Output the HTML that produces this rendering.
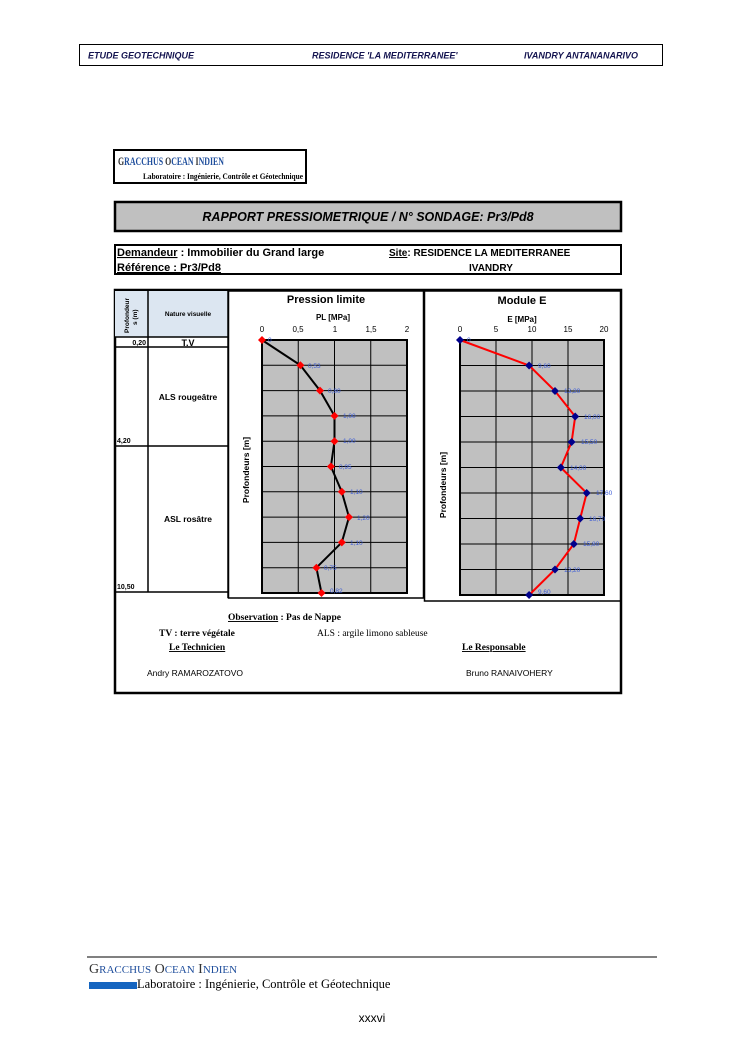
<!DOCTYPE html>
<html><head><meta charset="utf-8"><style>
html,body{margin:0;padding:0;background:#fff;}
svg{display:block;}
text{font-family:"Liberation Sans",sans-serif;}
.s,.s text,text.s{font-family:"Liberation Serif",serif;}
</style></head><body>
<svg width="744" height="1053" viewBox="0 0 744 1053" xmlns="http://www.w3.org/2000/svg">
<rect width="744" height="1053" fill="#fff"/>
<rect x="79.5" y="44.5" width="583" height="21" fill="none" stroke="#000" stroke-width="1"/>
<g font-size="9" font-style="italic" font-weight="bold" fill="#141450">
<text x="88" y="58.5">ETUDE GEOTECHNIQUE</text>
<text x="312" y="58.5">RESIDENCE 'LA MEDITERRANEE'</text>
<text x="524" y="58.5">IVANDRY ANTANANARIVO</text>
</g>
<rect x="114" y="150" width="192" height="33" fill="#fff" stroke="#000" stroke-width="2"/>
<text class="s" x="118" y="165" font-size="11.5" font-weight="bold" fill="#1f4e9c" textLength="106" lengthAdjust="spacingAndGlyphs"><tspan fill="#333">G</tspan>RACCHUS <tspan fill="#333">O</tspan>CEAN <tspan fill="#333">I</tspan>NDIEN</text>
<text class="s" x="143" y="179" font-size="8.5" font-weight="bold" fill="#000" textLength="160" lengthAdjust="spacingAndGlyphs">Laboratoire : Ingénierie, Contrôle et Géotechnique</text>
<rect x="115" y="202" width="506" height="29" fill="#c0c0c0" stroke="#000" stroke-width="2.5"/>
<text x="368" y="221" font-size="12.5" font-style="italic" font-weight="bold" text-anchor="middle">RAPPORT PRESSIOMETRIQUE / N° SONDAGE: Pr3/Pd8</text>
<rect x="115" y="245" width="506" height="29" fill="#fff" stroke="#000" stroke-width="2"/>
<g font-size="11" font-weight="bold">
<text x="117" y="256"><tspan text-decoration="underline">Demandeur</tspan> : Immobilier du Grand large</text>
<text x="117" y="271" text-decoration="underline">Référence : Pr3/Pd8</text>
</g>
<text x="389" y="256" font-size="10" font-weight="bold"><tspan text-decoration="underline">Site</tspan>: RESIDENCE LA MEDITERRANEE</text>
<text x="469" y="271" font-size="10" font-weight="bold">IVANDRY</text>
<rect x="115" y="290" width="506" height="403" fill="#fff" stroke="#000" stroke-width="2.5"/>
<rect x="115" y="291" width="113" height="46" fill="#dce6f1"/>
<g stroke="#000" stroke-width="1.5">
<line x1="148" y1="290" x2="148" y2="592"/>
<line x1="228" y1="290" x2="228" y2="598"/>
<line x1="115" y1="337" x2="228" y2="337"/>
<line x1="115" y1="347" x2="228" y2="347"/>
<line x1="115" y1="446" x2="228" y2="446"/>
<line x1="115" y1="592" x2="228" y2="592"/>
</g>
<text transform="translate(129,333) rotate(-90)" font-size="6.5" font-weight="bold">Profondeur</text>
<text transform="translate(137,325) rotate(-90)" font-size="6.5" font-weight="bold">s (m)</text>
<text x="188" y="316" font-size="6.5" font-weight="bold" text-anchor="middle">Nature visuelle</text>
<text x="146" y="345" font-size="7" font-weight="bold" text-anchor="end">0,20</text>
<text x="188" y="346" font-size="9" font-weight="bold" text-anchor="middle">T.V</text>
<text x="188" y="400" font-size="8.5" font-weight="bold" text-anchor="middle">ALS rougeâtre</text>
<text x="117" y="443" font-size="7" font-weight="bold">4,20</text>
<text x="188" y="522" font-size="8.5" font-weight="bold" text-anchor="middle">ASL rosâtre</text>
<text x="117" y="589" font-size="7" font-weight="bold">10,50</text>
<rect x="228.5" y="291" width="195" height="307" fill="#fff" stroke="#000" stroke-width="1.5"/>
<text x="326" y="303" font-size="11" font-weight="bold" text-anchor="middle">Pression limite</text>
<text x="333" y="320" font-size="8" font-weight="bold" text-anchor="middle">PL [MPa]</text>
<g font-size="8" text-anchor="middle">
<text x="262" y="332">0</text><text x="298" y="332">0,5</text><text x="335" y="332">1</text><text x="371" y="332">1,5</text><text x="407" y="332">2</text>
</g>
<text transform="translate(249,470) rotate(-90)" font-size="8.5" font-weight="bold" text-anchor="middle">Profondeurs [m]</text>
<rect x="262" y="340" width="145" height="253" fill="#c0c0c0"/>
<g stroke="#000" stroke-width="1">
<line x1="298.25" y1="340" x2="298.25" y2="593"/><line x1="334.5" y1="340" x2="334.5" y2="593"/><line x1="370.75" y1="340" x2="370.75" y2="593"/>
<line x1="262" y1="365.3" x2="407" y2="365.3"/><line x1="262" y1="390.6" x2="407" y2="390.6"/><line x1="262" y1="415.9" x2="407" y2="415.9"/><line x1="262" y1="441.2" x2="407" y2="441.2"/><line x1="262" y1="466.5" x2="407" y2="466.5"/><line x1="262" y1="491.8" x2="407" y2="491.8"/><line x1="262" y1="517.1" x2="407" y2="517.1"/><line x1="262" y1="542.4" x2="407" y2="542.4"/><line x1="262" y1="567.7" x2="407" y2="567.7"/>
</g>
<rect x="262" y="340" width="145" height="253" fill="none" stroke="#000" stroke-width="2"/>
<polyline fill="none" stroke="#000" stroke-width="2" points="262,340 300.4,365.3 320,390.6 334.5,415.9 334.5,441.2 330.9,466.5 341.8,491.8 349,517.1 341.8,542.4 316.4,567.7 321.5,593"/>
<g fill="#f00">
<path d="M262,336 l4,4 -4,4 -4,-4z"/><path d="M300.4,361.3 l4,4 -4,4 -4,-4z"/><path d="M320,386.6 l4,4 -4,4 -4,-4z"/><path d="M334.5,411.9 l4,4 -4,4 -4,-4z"/><path d="M334.5,437.2 l4,4 -4,4 -4,-4z"/><path d="M330.9,462.5 l4,4 -4,4 -4,-4z"/><path d="M341.8,487.8 l4,4 -4,4 -4,-4z"/><path d="M349,513.1 l4,4 -4,4 -4,-4z"/><path d="M341.8,538.4 l4,4 -4,4 -4,-4z"/><path d="M316.4,563.7 l4,4 -4,4 -4,-4z"/><path d="M321.5,589 l4,4 -4,4 -4,-4z"/>
</g>
<g font-size="6.5" fill="#3b5bd6">
<text x="268" y="342">0</text><text x="308" y="368">0,53</text><text x="328" y="393">0,80</text><text x="343" y="418">1,00</text><text x="343" y="443">1,00</text><text x="339" y="469">0,95</text><text x="350" y="494">1,10</text><text x="357" y="520">1,20</text><text x="350" y="545">1,10</text><text x="324" y="570">0,75</text><text x="330" y="593">0,82</text>
</g>
<rect x="424.5" y="291" width="196" height="310" fill="#fff" stroke="#000" stroke-width="1.5"/>
<text x="522" y="304" font-size="11" font-weight="bold" text-anchor="middle">Module E</text>
<text x="522" y="322" font-size="8" font-weight="bold" text-anchor="middle">E [MPa]</text>
<g font-size="8" text-anchor="middle">
<text x="460" y="332">0</text><text x="496" y="332">5</text><text x="532" y="332">10</text><text x="568" y="332">15</text><text x="604" y="332">20</text>
</g>
<text transform="translate(446,485) rotate(-90)" font-size="8.5" font-weight="bold" text-anchor="middle">Profondeurs [m]</text>
<rect x="460" y="340" width="144" height="255" fill="#c0c0c0"/>
<g stroke="#000" stroke-width="1">
<line x1="496" y1="340" x2="496" y2="595"/><line x1="532" y1="340" x2="532" y2="595"/><line x1="568" y1="340" x2="568" y2="595"/>
<line x1="460" y1="365.5" x2="604" y2="365.5"/><line x1="460" y1="391" x2="604" y2="391"/><line x1="460" y1="416.5" x2="604" y2="416.5"/><line x1="460" y1="442" x2="604" y2="442"/><line x1="460" y1="467.5" x2="604" y2="467.5"/><line x1="460" y1="493" x2="604" y2="493"/><line x1="460" y1="518.5" x2="604" y2="518.5"/><line x1="460" y1="544" x2="604" y2="544"/><line x1="460" y1="569.5" x2="604" y2="569.5"/>
</g>
<rect x="460" y="340" width="144" height="255" fill="none" stroke="#000" stroke-width="2"/>
<polyline fill="none" stroke="#f00" stroke-width="2" points="460,340 529.1,365.5 555,391 575.2,416.5 571.6,442 560.8,467.5 586.7,493 580.2,518.5 573.8,544 555,569.5 529.1,595"/>
<g fill="#00008b">
<path d="M460,336 l4,4 -4,4 -4,-4z"/><path d="M529.1,361.5 l4,4 -4,4 -4,-4z"/><path d="M555,387 l4,4 -4,4 -4,-4z"/><path d="M575.2,412.5 l4,4 -4,4 -4,-4z"/><path d="M571.6,438 l4,4 -4,4 -4,-4z"/><path d="M560.8,463.5 l4,4 -4,4 -4,-4z"/><path d="M586.7,489 l4,4 -4,4 -4,-4z"/><path d="M580.2,514.5 l4,4 -4,4 -4,-4z"/><path d="M573.8,540 l4,4 -4,4 -4,-4z"/><path d="M555,565.5 l4,4 -4,4 -4,-4z"/><path d="M529.1,591 l4,4 -4,4 -4,-4z"/>
</g>
<g font-size="6.5" fill="#3b5bd6">
<text x="467" y="342">0</text><text x="538" y="368">9,60</text><text x="564" y="393">13,20</text><text x="584" y="419">16,00</text><text x="581" y="444">15,50</text><text x="570" y="470">14,00</text><text x="596" y="495">17,60</text><text x="589" y="521">16,70</text><text x="583" y="546">15,80</text><text x="564" y="572">13,20</text><text x="538" y="594">9,60</text>
</g>
<g class="s" font-size="9.5">
<text x="228" y="620" font-weight="bold"><tspan text-decoration="underline">Observation</tspan> :  Pas de Nappe</text>
<text x="159" y="636" font-weight="bold">TV : terre végétale</text>
<text x="317" y="636">ALS : argile limono sableuse</text>
<text x="169" y="650" font-weight="bold" text-decoration="underline">Le Technicien</text>
<text x="462" y="650" font-weight="bold" text-decoration="underline">Le Responsable</text>
</g>
<text x="147" y="676" font-size="8.5">Andry RAMAROZATOVO</text>
<text x="466" y="676" font-size="8.5">Bruno RANAIVOHERY</text>
<line x1="87" y1="957" x2="657" y2="957" stroke="#000" stroke-width="1"/>
<text class="s" x="89" y="973" font-size="14" fill="#1f4e9c"><tspan fill="#333">G</tspan><tspan font-size="11">RACCHUS</tspan> <tspan fill="#333">O</tspan><tspan font-size="11">CEAN</tspan> <tspan fill="#333">I</tspan><tspan font-size="11">NDIEN</tspan></text>
<rect x="89" y="982" width="48" height="7" fill="#1565c0"/>
<text class="s" x="137" y="988" font-size="12.5">Laboratoire : Ingénierie, Contrôle et Géotechnique</text>
<text x="372" y="1022" font-size="12" text-anchor="middle">xxxvi</text>
</svg>
</body></html>
